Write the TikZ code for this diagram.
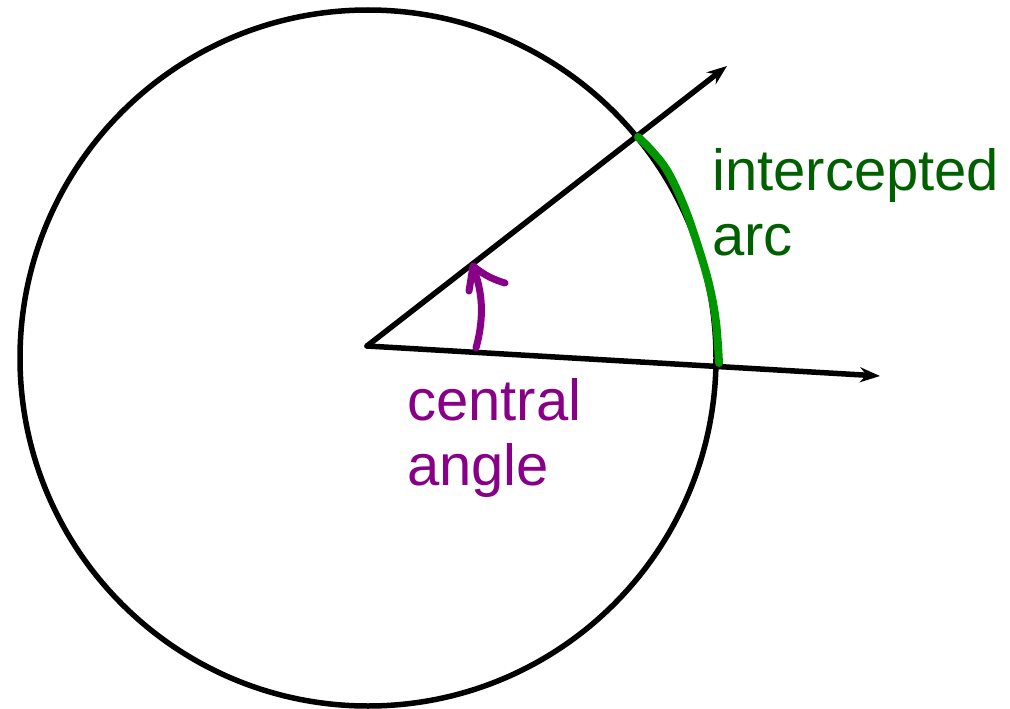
\documentclass[tikz,border=0pt]{standalone}
\usepackage{fontspec}
\setmainfont{Liberation Sans}
\usetikzlibrary{arrows.meta}
\definecolor{arcgreen}{RGB}{0,150,0}
\definecolor{txtgreen}{RGB}{0,96,0}
\definecolor{purp}{RGB}{136,0,136}
\tikzset{
  ray/.style={line width=5.5pt, -{Stealth[length=20pt,width=15pt]}},
  lbl/.style={anchor=base west, inner sep=0pt, font=\fontsize{58}{65}\selectfont, align=left},
}
\begin{document}
\begin{tikzpicture}[x=1pt,y=-1pt]
\useasboundingbox (0,0) rectangle (1010,709);
\clip (0,0) rectangle (1010,709);
% circle
\coordinate (C) at (368,358);
\draw[line width=5.5pt] (C) circle[radius=348];
% rays
\coordinate (O) at (367,346);
\coordinate (A) at (727,66);
\coordinate (B) at (880,376);
\draw[ray, line cap=round] (O) -- (A);
\draw[ray, line cap=round] (O) -- (B);
% intercepted arc (hand drawn)
\draw[arcgreen, line width=8pt, line cap=round, line join=round]
  plot[smooth, tension=0.6] coordinates {(638,137) (652,151) (668,172) (684,206) (697,243) (709,284) (716,322) (719,363)};
% central angle arrow
\draw[purp, line width=7pt, line cap=round, line join=round]
  (476,348) .. controls (485,315) and (482,290) .. (473,267);
\draw[purp, line width=7pt, line cap=round, line join=round]
  (469,291) -- (473,266) .. controls (485,276) and (495,280) .. (505,283);
% labels
\node[lbl, text=txtgreen] (lblarc) at (712,255) {intercepted\\arc};
\node[lbl, text=purp] (lblangle) at (407,485) {central\\angle};
\end{tikzpicture}
\end{document}
